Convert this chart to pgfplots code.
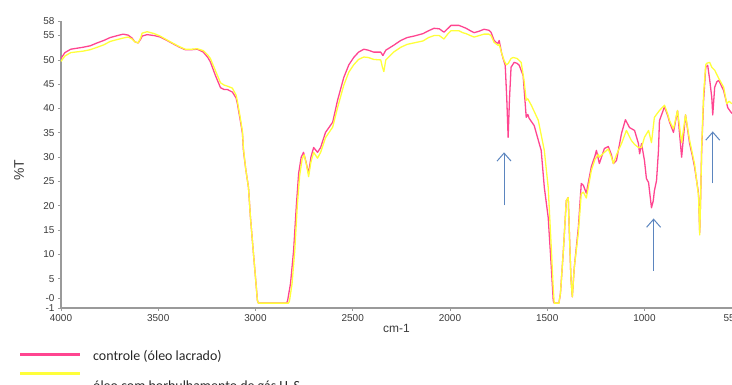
\documentclass[border=0pt]{standalone}
\usepackage{fontspec}
\setmainfont{Liberation Sans}
\newfontfamily\carlito{Carlito}
\usepackage{pgfplots}
\pgfplotsset{compat=1.18}
\usetikzlibrary{arrows.meta}
\definecolor{pinkc}{HTML}{FF4590}
\definecolor{yellowc}{HTML}{FFFF3A}
\definecolor{arrowblue}{HTML}{5B85BF}
\definecolor{axisgray}{HTML}{9A9A9A}
\definecolor{ticktext}{HTML}{3A3A3A}
\begin{document}
\begin{tikzpicture}[x=1bp,y=1bp]
\begin{axis}[
  at={(61bp,77bp)}, anchor=south west,
  scale only axis, width=671bp, height=287bp,
  x dir=reverse, xmin=550, xmax=4000, ymin=-1, ymax=58,
  axis x line*=bottom, axis y line*=left,
  axis line style={axisgray, line width=1.3bp, -},
  xtick={4000,3500,3000,2500,2000,1500,1000,550},
  xticklabels={4000,3500,3000,2500,2000,1500,1000,550},
  ytick={-1,1,5,10,15,20,25,30,35,40,45,50,55,58},
  yticklabels={-1,-0,5,10,15,20,25,30,35,40,45,50,55,58},
  tick align=outside, major tick length=3bp,
  tick style={axisgray, line width=0.8bp},
  /pgf/number format/assume math mode=true,
  tick label style={font=\fontsize{10}{11}\selectfont, text=ticktext},
  xlabel={cm-1}, ylabel={\%T},
  xlabel style={at={(rel axis cs:0.5,-0.0697)}, anchor=center, font=\fontsize{12}{13}\selectfont, text=ticktext},
  ylabel style={at={(rel axis cs:-0.0626,0.481)}, anchor=center, font=\fontsize{14}{15}\selectfont, text=ticktext},
  clip=false,
]
% controle (pink)
\addplot[pinkc, line width=1.3bp, line join=round] table {
4000 50.3
3980 51.5
3950 52.2
3887 52.6
3850 52.9
3814 53.5
3780 54.0
3747 54.6
3710 55.0
3680 55.3
3655 55.1
3635 54.5
3619 53.7
3603 53.5
3590 54.3
3583 54.9
3557 55.2
3520 55.0
3490 54.7
3455 54.0
3423 53.3
3390 52.6
3361 52.1
3330 52.1
3299 52.2
3268 51.6
3245 50.5
3232 49.6
3206 46.8
3180 44.3
3160 43.9
3144 43.9
3119 43.4
3100 42.2
3093 41.0
3080 38.0
3067 34.9
3062 31.4
3050 27.5
3036 23.8
3026 17.7
3010 10.0
3000 5.3
2990 0.5
2985 0.0
2840 0.0
2835 0.5
2820 4
2804 10.8
2790 20
2778 26.7
2765 30
2753 31.0
2740 29
2727 26.6
2715 30
2701 32.0
2681 31.0
2665 32.0
2640 35.1
2603 37.2
2578 41.7
2546 46.4
2520 49
2495 50.5
2470 51.6
2443 52.2
2420 52.0
2392 51.6
2356 51.6
2345 50.9
2330 52.0
2290 53.0
2253 54.0
2220 54.6
2185 54.9
2139 55.4
2110 56.0
2082 56.5
2055 56.4
2031 55.7
2010 56.5
1995 57.1
1954 57.1
1935 56.8
1917 56.5
1895 56.0
1876 55.6
1850 55.9
1825 56.3
1800 56.1
1789 55.7
1773 54.0
1763 53.6
1753 53.4
1747 54.0
1735 51.5
1727 50.3
1716 48.9
1708 42
1701 34.1
1694 42
1686 48.5
1670 49.5
1655 49.3
1644 48.9
1624 46.8
1615 42
1608 38.2
1600 38.8
1593 38.0
1567 36.5
1541 32.8
1531 31.4
1515 23.8
1495 17.6
1480 8
1469 0.5
1464 0.0
1440 0.0
1432 2
1417 10.8
1402 21.1
1392 21.7
1386 14.3
1378 5
1371 1.3
1361 7.3
1340 15.5
1325 24.6
1314 24.2
1299 22.6
1273 28.1
1255 30.2
1247 31.4
1232 28.7
1206 31.8
1186 32.2
1170 30.5
1160 28.7
1144 29.3
1118 34.9
1098 37.7
1077 36.1
1051 35.5
1031 32.8
1025 30.7
1015 32.8
1000 29.3
990 25.6
979 24.8
964 19.6
955 21
949 23.1
938 25.2
928 31.4
923 37.5
897 40.4
880 38.5
871 37.2
851 35.1
830 39.6
809 30.0
789 38.7
768 32.8
755 30.5
742 27.9
722 22.5
716 14.5
711 22
706 31.4
696 41.7
685 48.5
675 48.9
665 46
654 42.3
649 38.7
639 44.4
628 45.5
618 45.8
593 43.7
572 40.2
560 39.5
550 39.0
};
% oleo com H2S (yellow)
\addplot[yellowc, line width=1.3bp, line join=round] table {
4000 49.7
3980 50.8
3950 51.5
3887 51.8
3850 52.1
3814 52.6
3780 53.1
3747 53.8
3710 54.2
3680 54.5
3655 54.7
3635 54.3
3619 53.7
3603 53.5
3590 54.6
3583 55.5
3557 55.8
3520 55.4
3490 54.9
3455 54.1
3423 53.4
3390 52.7
3361 52.2
3330 52.2
3299 52.3
3268 51.9
3245 51.0
3232 50.3
3206 47.8
3180 45.3
3160 44.8
3144 44.6
3119 44.2
3100 42.8
3093 41.5
3080 38.5
3067 35.3
3062 31.8
3050 27.5
3036 23.8
3026 17.7
3010 10
3000 5.3
2990 0.5
2985 0.0
2830 0.0
2825 0.5
2812 4
2798 10.8
2785 20
2773 26.2
2760 29.6
2750 30.5
2738 28.5
2727 26.0
2715 29
2701 31.0
2681 29.8
2665 31.0
2640 34.0
2603 36.2
2578 40.2
2546 44.8
2520 47.5
2495 49.0
2470 50.1
2443 50.6
2420 50.5
2392 50.1
2356 50.0
2348 48.6
2340 47.6
2330 50.0
2290 51.6
2253 52.6
2220 53.2
2185 53.5
2139 53.9
2110 54.6
2082 55.0
2055 55.0
2031 54.3
2010 55.4
1995 56.0
1954 56.0
1935 55.6
1917 55.4
1895 55.0
1876 54.7
1850 55.0
1825 55.3
1800 55.3
1789 55.0
1773 53.6
1763 53.3
1753 53.0
1747 53.2
1735 51.5
1727 50.5
1722 49.9
1710 49.0
1700 49.3
1686 50.3
1675 50.5
1655 50.3
1634 49.5
1620 46
1608 41.7
1600 42.0
1582 40.7
1546 37.6
1515 31.4
1495 23.8
1480 12
1469 3
1464 0.0
1440 0.0
1432 2
1417 10.8
1402 21.1
1392 21.7
1386 14.3
1378 5
1371 1.3
1361 7.3
1340 14.5
1325 22.5
1314 22.8
1299 21.6
1273 27.3
1255 29.5
1237 30.6
1232 30.0
1206 31.0
1186 31.7
1170 30.0
1160 28.7
1144 30.5
1134 31.4
1118 32.8
1093 35.5
1067 33.4
1050 32.6
1031 32.0
1015 32.0
1000 34.1
979 35.5
964 33.0
949 38.2
923 39.6
897 40.7
880 38.8
871 37.5
851 35.8
830 39.6
809 33.0
789 38.7
768 33.5
755 31
742 28.5
722 22
716 14.0
711 22
706 32
696 43
685 49.0
680 49.3
665 49.5
654 48.5
639 47.9
628 47.0
618 46.2
593 44.4
577 41.0
565 41.5
551 41.0
};
% annotation arrows
\draw[arrowblue, line width=1bp, -{Straight Barb[length=8bp,width=14bp]}] (axis cs:1722,20.1) -- (axis cs:1722,31.0);
\draw[arrowblue, line width=1bp, -{Straight Barb[length=8bp,width=14bp]}] (axis cs:953,6.7) -- (axis cs:953,17.4);
\draw[arrowblue, line width=1bp, -{Straight Barb[length=8bp,width=14bp]}] (axis cs:649,24.6) -- (axis cs:649,35.3);
\end{axis}
% legend
\draw[pinkc, line width=3bp] (20bp,30bp) -- (80bp,30bp);
\draw[yellowc, line width=3bp] (20bp,11bp) -- (80bp,11bp);
\node[anchor=base west, inner sep=0pt, font=\carlito\fontsize{14}{16}\selectfont, text=black!85] at (93bp,25bp) {controle (óleo lacrado)};
\node[anchor=base west, inner sep=0pt, font=\carlito\fontsize{14}{16}\selectfont, text=black!85] at (93bp,-5bp) {óleo com borbulhamento de gás H\textsubscript{2}S};
\pgfresetboundingbox
\useasboundingbox (0bp,0bp) rectangle (732bp,385bp);
\end{tikzpicture}
\end{document}
